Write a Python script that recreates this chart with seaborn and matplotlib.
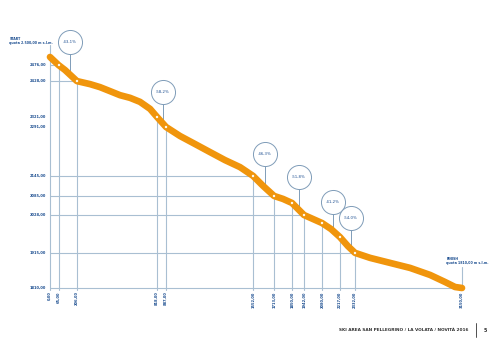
import numpy as np
import pandas as pd
import seaborn as sns
import matplotlib.pyplot as plt

# profilo della pista (distanza m, quota m)
dist = [0, 65, 115, 206, 306, 382, 459, 535, 612, 688, 765, 818, 887, 994, 1109,
        1223, 1338, 1453, 1552, 1629, 1713, 1782, 1850, 1896, 1942, 2011, 2080,
        2149, 2217, 2278, 2332, 2447, 2600, 2753, 2906, 3020, 3097, 3150]
quota = [2500, 2476, 2461, 2428, 2419, 2410, 2398, 2386, 2378, 2366, 2345, 2321,
         2291, 2264, 2240, 2216, 2192, 2171, 2145, 2115, 2085, 2076, 2064, 2046,
         2028, 2016, 2004, 1986, 1962, 1935, 1915, 1900, 1885, 1870, 1849, 1828,
         1813, 1810]

# punti chiave
key_dist = [0, 65, 206, 818, 887, 1552, 1713, 1850, 1942, 2080, 2217, 2332, 3150]
key_quota = [2500, 2476, 2428, 2321, 2291, 2145, 2085, 2064, 2028, 2004, 1962, 1915, 1810]
key_xlab = ["0,00", "65,00", "206,00", "818,00", "887,00", "1552,00", "1713,00",
            "1850,00", "1942,00", "2080,00", "2217,00", "2332,00", "3150,00"]
yl_idx = [1, 2, 3, 4, 5, 6, 8, 11, 12]
yl_lab = ["2476,00", "2428,00", "2321,00", "2291,00", "2145,00", "2085,00",
          "2028,00", "1915,00", "1810,00"]
hl_idx = [1, 2, 5, 6, 8, 11]

# pendenze
pend_x = [153, 864, 1644, 1904, 2164, 2301]
pend_y = [2545, 2395, 2210, 2142, 2067, 2019]
pend_lab = ["-43,1%", "-58,2%", "-46,3%", "-51,8%", "-41,2%", "-54,0%"]

sns.set_style("white")
plt.rcParams['font.family'] = ['DejaVu Sans']

blu = "#1d4f91"
griglia = "#a9bfd2"
arancio = "#f0950c"

fig = plt.figure(figsize=(5, 3.51), dpi=100)
ax = fig.add_axes([50 / 500, 63 / 351, 412 / 500, 231 / 351])
ax.set_xlim(0, 3150)
ax.set_ylim(1810, 2500)
ax.axis("off")

ybot = 1804
# linee verticali
for i, (d, q) in enumerate(zip(key_dist, key_quota)):
    top = q
    if i == 0:
        top = 2536
    if i == len(key_dist) - 1:
        top = 1872
    ax.plot([d, d], [ybot, top], color=griglia, lw=0.8, clip_on=False, zorder=1)
    ax.text(d, ybot - 4, key_xlab[i], rotation=90, ha="center", va="top",
            fontsize=2.6, color=blu, fontweight="bold")

# linee orizzontali
ax.plot([0, 3150], [1810, 1810], color=griglia, lw=0.8, clip_on=False, zorder=1)
for i in hl_idx:
    ax.plot([0, key_dist[i]], [key_quota[i]] * 2, color=griglia, lw=0.8,
            clip_on=False, zorder=1)
for i, lab in zip(yl_idx, yl_lab):
    ax.text(-30, key_quota[i], lab, ha="right", va="center", fontsize=2.6,
            color=blu, fontweight="bold")

# pendenze: cerchi con stelo
for x, y, lab in zip(pend_x, pend_y, pend_lab):
    yline = np.interp(x, dist, quota)
    ax.plot([x, x], [y - 36, yline], color="#7f9cb8", lw=0.7, clip_on=False, zorder=2)
    ax.scatter([x], [y], s=300, facecolor="white", edgecolor="#7f9cb8",
               linewidth=0.7, clip_on=False, zorder=4)
    ax.text(x, y, lab, ha="center", va="center", fontsize=2.8, color=blu, zorder=5)

df = pd.DataFrame({"dist": dist, "quota": quota})
sns.lineplot(data=df, x="dist", y="quota", ax=ax, color=arancio, lw=4.8,
             solid_capstyle="round", zorder=3, clip_on=False)
kp = pd.DataFrame({"dist": key_dist[1:-1], "quota": key_quota[1:-1]})
sns.scatterplot(data=kp, x="dist", y="quota", ax=ax, marker="s", s=3,
                color="white", edgecolor="#f5d9a8", linewidth=0.2, zorder=4,
                clip_on=False)
ax.axis("off")

ax.text(-310, 2548, "START\nquota 2.500,00 m s.l.m.", ha="left", va="center",
        fontsize=2.3, color=blu, fontweight="bold", linespacing=1.1)
ax.text(3030, 1890, "FINISH\nquota 1810,00 m s.l.m.", ha="left", va="center",
        fontsize=2.3, color=blu, fontweight="bold", linespacing=1.1)

fig.text(468 / 500, 1 - 330 / 351, "SKI AREA SAN PELLEGRINO / LA VOLATA / NOVITÀ 2016",
         ha="right", va="center", fontsize=3.1, color="#333333", fontweight="bold")
fig.add_artist(plt.Line2D([476 / 500, 476 / 500], [1 - 323 / 351, 1 - 337 / 351],
                          color="#333333", lw=0.6))
fig.text(484 / 500, 1 - 330 / 351, "5", ha="left", va="center", fontsize=3.4,
         color="#333333", fontweight="bold")

fig.savefig("out.png", dpi=100)
